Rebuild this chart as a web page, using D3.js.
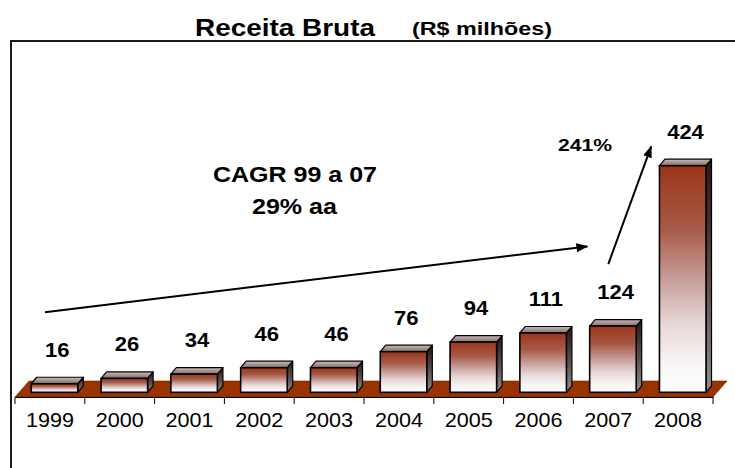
<!DOCTYPE html>
<html>
<head>
<meta charset="utf-8">
<script src="https://cdn.jsdelivr.net/npm/d3@7"></script>
<style>
  html, body { margin: 0; padding: 0; background: #fff; }
  svg { display: block; }
  text { font-family: "Liberation Sans", Arial, Helvetica, sans-serif; fill: #000; }
</style>
</head>
<body>
<svg id="chart" width="735" height="468"></svg>
<script>
// ---- data ----
const years = ["1999","2000","2001","2002","2003","2004","2005","2006","2007","2008"];
const values = [16, 26, 34, 46, 46, 76, 94, 111, 124, 424];
const valueLabels = ["16","26","34","46","46","76","94","111","124","424"];
const titleMain = "Receita Bruta";
const titleUnit = "(R$ milhões)";
const cagrLines = ["CAGR 99 a 07", "29% aa"];
const growthLabel = "241%";

// ---- setup ----
const svg = d3.select("#chart");
const W = 735, H = 468;

const x = d3.scaleBand().domain(years).range([15, 713]).padding(0);
const y = d3.scaleLinear().domain([0, 424]).range([392.3, 165.7]);
const bw = x.bandwidth();
const faceOff = bw * 0.233, faceW = bw * 0.667;
const dx = 5.5, dy = 6.5;

const defs = svg.append("defs");
function grad(id, stops, x1, y1, x2, y2) {
  const g = defs.append("linearGradient").attr("id", id)
    .attr("x1", x1).attr("y1", y1).attr("x2", x2).attr("y2", y2);
  stops.forEach(s => g.append("stop").attr("offset", s[0]).attr("stop-color", s[1]));
}
grad("gFront", [[0,"#993619"],[0.28,"#a85a48"],[0.5,"#c79d98"],[0.7,"#e8d8d8"],[0.88,"#f9f5f5"],[1,"#fefefe"]], 0, 0, 0, 1);
grad("gSide", [[0,"#2a1614"],[0.5,"#5a4a48"],[1,"#8e8e8e"]], 0, 0, 0, 1);
grad("gTop", [[0,"#c4bebe"],[1,"#8a6a66"]], 0, 0, 0, 1);

const marker = defs.append("marker").attr("id", "arrow")
  .attr("markerUnits", "userSpaceOnUse")
  .attr("viewBox", "0 0 12 10").attr("refX", 11).attr("refY", 5)
  .attr("markerWidth", 12).attr("markerHeight", 10).attr("orient", "auto");
marker.append("path").attr("d", "M0,0.5 L12,5 L0,9.5 Z").attr("fill", "#000");

// ---- floor ----
const fy = y(0) + 4.7, by = y(0) - 11.3, x0 = x.range()[0], x1 = x.range()[1];
svg.append("path")
  .attr("d", `M${x0},${fy} L${x1},${fy} L${x1 + 14},${by} L${x0 + 14},${by} Z`)
  .attr("fill", "#993300").attr("stroke", "#6a2400").attr("stroke-width", 0.6);

// ---- axis ----
const axis = svg.append("g").attr("transform", `translate(0,${fy})`)
  .call(d3.axisBottom(x).tickSize(0).tickPadding(16).tickSizeOuter(0));
axis.select(".domain").attr("stroke", "#000").attr("stroke-width", 1.2);
axis.selectAll(".tick text")
  .style("font-size", "20px").attr("fill", "#000")
  .attr("transform", "scale(1.08,1)");
const bounds = years.map(d => x(d)).concat([x1]);
axis.selectAll("line.bnd").data(bounds).join("line").attr("class", "bnd")
  .attr("x1", d => d).attr("x2", d => d).attr("y1", 0).attr("y2", 7)
  .attr("stroke", "#000").attr("stroke-width", 1);

// ---- bars ----
const bars = svg.append("g").selectAll("g").data(years).join("g");
bars.each(function(yr, i) {
  const g = d3.select(this);
  const L = x(yr) + faceOff, R = L + faceW, T = y(values[i]), B = y(0);
  g.append("path").attr("d", `M${R},${B} L${R},${T} L${R + dx},${T - dy} L${R + dx},${B - dy} Z`)
    .attr("fill", "url(#gSide)").attr("stroke", "#000").attr("stroke-width", 1.2).attr("stroke-linejoin", "round");
  g.append("path").attr("d", `M${L},${T} L${L + dx},${T - dy} L${R + dx},${T - dy} L${R},${T} Z`)
    .attr("fill", "url(#gTop)").attr("stroke", "#000").attr("stroke-width", 1.2).attr("stroke-linejoin", "round");
  g.append("rect").attr("x", L).attr("y", T).attr("width", faceW).attr("height", B - T)
    .attr("fill", "url(#gFront)").attr("stroke", "#000").attr("stroke-width", 1.6);
});

// ---- value labels ----
function place(sel, sx) {
  sel.each(function() {
    const t = d3.select(this);
    const px = +t.attr("x"), py = +t.attr("y");
    t.attr("x", 0).attr("y", 0).attr("transform", `translate(${px},${py}) scale(${sx},1)`);
  });
}
svg.append("g").selectAll("text").data(years).join("text")
  .attr("x", d => x(d) + faceOff + (faceW + dx) / 2)
  .attr("y", (d, i) => y(values[i]) - 27)
  .attr("text-anchor", "middle")
  .style("font-size", "20px").style("font-weight", "bold")
  .text((d, i) => valueLabels[i])
  .call(place, 1.1);

// ---- arrows ----
svg.append("line")
  .attr("x1", x("1999") + 30).attr("y1", y(150))
  .attr("x2", x("2007") + 14).attr("y2", y(273))
  .attr("stroke", "#000").attr("stroke-width", 2).attr("marker-end", "url(#arrow)");
svg.append("line")
  .attr("x1", x("2007") + bw / 2).attr("y1", y(240))
  .attr("x2", x("2008") + 8).attr("y2", y(460))
  .attr("stroke", "#000").attr("stroke-width", 2).attr("marker-end", "url(#arrow)");

// ---- annotations ----
svg.append("text").attr("x", 295).attr("y", 182).attr("text-anchor", "middle")
  .style("font-size", "22px").style("font-weight", "bold")
  .attr("textLength", 164).attr("lengthAdjust", "spacingAndGlyphs").text(cagrLines[0]);
svg.append("text").attr("x", 294.5).attr("y", 214).attr("text-anchor", "middle")
  .style("font-size", "22px").style("font-weight", "bold")
  .attr("textLength", 85).attr("lengthAdjust", "spacingAndGlyphs").text(cagrLines[1]);
svg.append("text").attr("x", 558).attr("y", 151)
  .style("font-size", "17px").style("font-weight", "bold")
  .attr("textLength", 54).attr("lengthAdjust", "spacingAndGlyphs").text(growthLabel);

// ---- title ----
svg.append("text").attr("x", 195).attr("y", 36)
  .style("font-size", "23px").style("font-weight", "bold")
  .attr("textLength", 180).attr("lengthAdjust", "spacingAndGlyphs").text(titleMain);
svg.append("text").attr("x", 412).attr("y", 35)
  .style("font-size", "18px").style("font-weight", "bold")
  .attr("textLength", 140).attr("lengthAdjust", "spacingAndGlyphs").text(titleUnit);

// ---- frame ----
svg.append("path").attr("d", `M11,${H + 2} L11,41 L${W + 2},41`)
  .attr("fill", "none").attr("stroke", "#1a1a1a").attr("stroke-width", 2);
</script>
</body>
</html>
